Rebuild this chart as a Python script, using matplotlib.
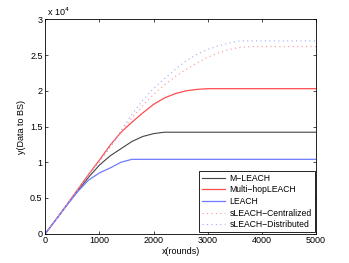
import matplotlib
matplotlib.use('Agg')
import matplotlib.pyplot as plt

# rounds
rounds = [0, 200, 400, 600, 800, 1000, 1200, 1400, 1600, 1800, 2000, 2200, 2400,
          2600, 2800, 3000, 3200, 3400, 3600, 3800, 4000, 4500, 5000]

# data to BS, in units of 1e4
m_leach = [0, 0.2, 0.4, 0.6, 0.79, 0.96, 1.09, 1.19, 1.29, 1.36, 1.40, 1.42, 1.42,
           1.42, 1.42, 1.42, 1.42, 1.42, 1.42, 1.42, 1.42, 1.42, 1.42]
multihop = [0, 0.2, 0.41, 0.62, 0.83, 1.03, 1.24, 1.42, 1.56, 1.69, 1.81, 1.90, 1.96,
            2.00, 2.02, 2.03, 2.03, 2.03, 2.03, 2.03, 2.03, 2.03, 2.03]
leach = [0, 0.2, 0.4, 0.59, 0.75, 0.85, 0.92, 1.0, 1.04, 1.04, 1.04, 1.04, 1.04,
         1.04, 1.04, 1.04, 1.04, 1.04, 1.04, 1.04, 1.04, 1.04, 1.04]
sleach_c = [0, 0.2, 0.41, 0.62, 0.82, 1.01, 1.21, 1.43, 1.62, 1.79, 1.95, 2.08, 2.2,
            2.3, 2.39, 2.47, 2.53, 2.58, 2.61, 2.62, 2.62, 2.62, 2.62]
sleach_d = [0, 0.2, 0.41, 0.62, 0.82, 1.01, 1.22, 1.45, 1.67, 1.87, 2.03, 2.17, 2.30,
            2.42, 2.51, 2.58, 2.63, 2.67, 2.70, 2.70, 2.70, 2.70, 2.70]

labels = ['M\u2212LEACH', 'Multi\u2212hopLEACH', 'LEACH',
          'sLEACH\u2212Centralized', 'sLEACH\u2212Distributed']

plt.rcParams['font.family'] = ['Liberation Sans', 'DejaVu Sans']
plt.rcParams['font.size'] = 6.5

fig = plt.figure(figsize=(3.49, 2.63), dpi=100)
ax = fig.add_axes([0.13, 0.112, 0.775, 0.814])

ax.plot(rounds, m_leach, color='#444444', lw=0.8, label=labels[0])
ax.plot(rounds, multihop, color='#ff4d4d', lw=0.9, label=labels[1])
ax.plot(rounds, leach, color='#6f7cff', lw=0.9, label=labels[2])
ax.plot(rounds, sleach_c, color='#ff9090', lw=0.8, ls=(0, (1, 3)), label=labels[3])
ax.plot(rounds, sleach_d, color='#a0aaff', lw=0.8, ls=(0, (1, 3)), label=labels[4])

ax.set_xlim(0, 5000)
ax.set_ylim(0, 3)
ax.set_xticks([0, 1000, 2000, 3000, 4000, 5000])
ax.set_yticks([0, 0.5, 1, 1.5, 2, 2.5, 3])
ax.set_yticklabels(['0', '0.5', '1', '1.5', '2', '2.5', '3'])
ax.tick_params(direction='in', top=True, right=True, length=2.5, width=0.5, pad=2)
for s in ax.spines.values():
    s.set_linewidth(0.6)

ax.set_xlabel('x(rounds)', labelpad=1)
ax.set_ylabel('y(Data to BS)', labelpad=3)
ax.text(0.0, 1.005, ' x 10$^4$', transform=ax.transAxes, ha='left', va='bottom', fontsize=6.5)

leg = ax.legend(loc='lower right', fancybox=False, edgecolor='black', framealpha=1,
                fontsize=6.2, handlelength=2.7, borderaxespad=0.15, labelspacing=0.3,
                borderpad=0.35, handletextpad=0.45)
leg.get_frame().set_linewidth(0.6)

fig.savefig('out.png', dpi=100)
